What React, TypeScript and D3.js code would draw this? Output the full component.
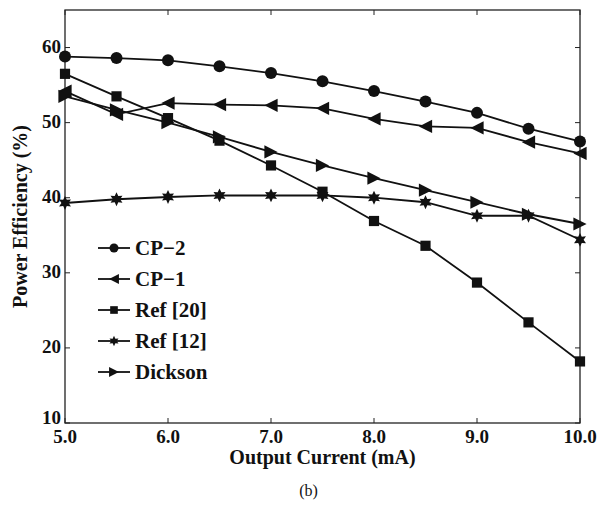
import * as d3 from 'd3';
import React, { useEffect, useRef } from 'react';

const currents = [5.0, 5.5, 6.0, 6.5, 7.0, 7.5, 8.0, 8.5, 9.0, 9.5, 10.0];
const cp2 = [58.8, 58.6, 58.3, 57.5, 56.6, 55.5, 54.2, 52.8, 51.3, 49.2, 47.5];
const cp1 = [54.2, 51.1, 52.6, 52.4, 52.3, 51.9, 50.5, 49.5, 49.3, 47.4, 45.9];
const ref20 = [56.5, 53.5, 50.6, 47.6, 44.3, 40.8, 36.9, 33.6, 28.7, 23.4, 18.2];
const ref12 = [39.3, 39.8, 40.1, 40.3, 40.3, 40.3, 40.0, 39.4, 37.6, 37.6, 34.4];
const dickson = [53.5, 51.7, 50.0, 48.1, 46.1, 44.3, 42.6, 41.0, 39.4, 37.8, 36.5];
const xTicks = [5, 6, 7, 8, 9, 10];
const yTicks = [10, 20, 30, 40, 50, 60];

const seriesList = [
  { name: 'CP\u22122', values: cp2, marker: 'circle' },
  { name: 'CP\u22121', values: cp1, marker: 'left' },
  { name: 'Ref [20]', values: ref20, marker: 'square' },
  { name: 'Ref [12]', values: ref12, marker: 'star' },
  { name: 'Dickson', values: dickson, marker: 'right' },
];

// s ~ half the marker size in px
const markerPath = (type, s) => {
  if (type === 'circle') return d3.symbol(d3.symbolCircle, Math.PI * s * s)();
  if (type === 'square') return d3.symbol(d3.symbolSquare, (s * 1.7) * (s * 1.7))();
  if (type === 'left') return `M${-s * 1.1},0L${s * 1.1},${-s * 1.1}L${s * 1.1},${s * 1.1}Z`;
  if (type === 'right') return `M${s * 1.1},0L${-s * 1.1},${-s * 1.1}L${-s * 1.1},${s * 1.1}Z`;
  // hexagram
  const pts = [];
  for (let i = 0; i < 12; i++) {
    const a = (Math.PI / 6) * i - Math.PI / 2;
    const r = i % 2 === 0 ? s * 1.15 : s * 0.6;
    pts.push([r * Math.cos(a), r * Math.sin(a)]);
  }
  return 'M' + pts.map((p) => p.join(',')).join('L') + 'Z';
};

const App = () => {
  const svgRef = useRef(null);
  const width = 601;
  const height = 510;
  const margin = { left: 65, right: 21, top: 10, bottom: 87 };

  useEffect(() => {
    const svg = d3.select(svgRef.current);
    svg.selectAll('*').remove();
    const font = '"Liberation Serif", "Times New Roman", serif';

    const x = d3.scaleLinear().domain([5, 10]).range([margin.left, width - margin.right]);
    const y = d3.scaleLinear().domain([10, 65]).range([height - margin.bottom, margin.top]);
    const x0 = x(5), x1 = x(10), y0 = y(10), y1 = y(65);

    // frame
    svg.append('rect')
      .attr('x', x0).attr('y', y1)
      .attr('width', x1 - x0).attr('height', y0 - y1)
      .attr('fill', 'white').attr('stroke', '#222').attr('stroke-width', 1.3);

    // ticks (inside, all four sides)
    const tl = 5;
    xTicks.forEach((t) => {
      svg.append('line').attr('x1', x(t)).attr('x2', x(t)).attr('y1', y0).attr('y2', y0 - tl)
        .attr('stroke', '#222');
      svg.append('line').attr('x1', x(t)).attr('x2', x(t)).attr('y1', y1).attr('y2', y1 + tl)
        .attr('stroke', '#222');
      svg.append('text').attr('x', x(t)).attr('y', y0 + 20)
        .attr('text-anchor', 'middle').attr('font-family', font).attr('font-weight', 'bold')
        .attr('font-size', 19).attr('fill', '#111').text(t.toFixed(1));
    });
    yTicks.forEach((t) => {
      svg.append('line').attr('x1', x0).attr('x2', x0 + tl).attr('y1', y(t)).attr('y2', y(t))
        .attr('stroke', '#222');
      svg.append('line').attr('x1', x1).attr('x2', x1 - tl).attr('y1', y(t)).attr('y2', y(t))
        .attr('stroke', '#222');
      svg.append('text').attr('x', x0 - 4).attr('y', y(t) + (t === 10 ? 1 : 5))
        .attr('text-anchor', 'end').attr('font-family', font).attr('font-weight', 'bold')
        .attr('font-size', 19).attr('fill', '#111').text(t);
    });

    // axis titles
    svg.append('text').attr('x', (x0 + x1) / 2).attr('y', y0 + 41)
      .attr('text-anchor', 'middle').attr('font-family', font).attr('font-weight', 'bold')
      .attr('font-size', 20).attr('fill', '#111').text('Output Current (mA)');
    svg.append('text')
      .attr('transform', `translate(27, ${(y0 + y1) / 2}) rotate(-90)`)
      .attr('text-anchor', 'middle').attr('font-family', font).attr('font-weight', 'bold')
      .attr('font-size', 20).attr('fill', '#111').text('Power Efficiency (%)');
    svg.append('text').attr('x', (x0 + x1) / 2 - 14).attr('y', height - 14)
      .attr('text-anchor', 'middle').attr('font-family', font)
      .attr('font-size', 16).attr('fill', '#111').text('(b)');

    const line = d3.line().x((d) => x(d[0])).y((d) => y(d[1]));

    seriesList.forEach((s) => {
      const pts = currents.map((c, i) => [c, s.values[i]]);
      svg.append('path').attr('d', line(pts)).attr('fill', 'none')
        .attr('stroke', '#111').attr('stroke-width', 1.8);
      svg.append('g').selectAll('path').data(pts).enter().append('path')
        .attr('transform', (d) => `translate(${x(d[0])},${y(d[1])})`)
        .attr('d', markerPath(s.marker, 6)).attr('fill', '#111');
    });

    // legend
    const lg = svg.append('g').attr('transform', 'translate(98, 248)');
    seriesList.forEach((s, i) => {
      const row = lg.append('g').attr('transform', `translate(0, ${i * 31})`);
      row.append('line').attr('x1', 0).attr('x2', 32).attr('y1', 0).attr('y2', 0)
        .attr('stroke', '#111').attr('stroke-width', 1.8);
      row.append('path').attr('transform', 'translate(16,0)')
        .attr('d', markerPath(s.marker, 4.5)).attr('fill', '#111');
      row.append('text').attr('x', 37).attr('y', 7).attr('font-family', font)
        .attr('font-weight', 'bold').attr('font-size', 21).attr('fill', '#111').text(s.name);
    });
  }, []);

  return <svg ref={svgRef} width={width} height={height} style={{ position: 'absolute', left: 0, top: 0, background: 'white' }}></svg>;
};

export default App;
